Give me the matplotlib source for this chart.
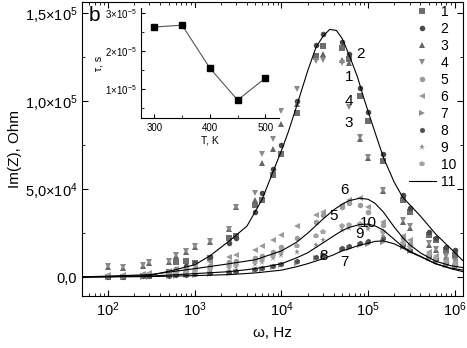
import numpy as np
import matplotlib
matplotlib.use('Agg')
import matplotlib.pyplot as plt
from matplotlib.ticker import FixedLocator, FixedFormatter, LogLocator, NullFormatter, MultipleLocator

plt.rcParams['font.family'] = ['Liberation Sans', 'DejaVu Sans']
plt.rcParams['mathtext.fontset'] = 'custom'
plt.rcParams['mathtext.rm'] = 'Liberation Sans'
plt.rcParams['mathtext.it'] = 'Liberation Sans:italic'

# measured frequencies, Hz
freq = [100, 150, 250, 300, 500, 600, 800, 1e3, 1.5e3, 2.5e3, 3e3, 5e3, 6e3, 8e3, 1e4,
        1.5e4, 2.5e4, 3e4, 5e4, 6e4, 8e4, 1e5, 1.5e5, 2.5e5, 3e5, 5e5, 6e5, 8e5, 1e6]

# Im(Z) in kOhm, series 1..10
s1 = [0.39, 0.39, 0.96, 0.96, 3.21, 8.85, 9.41, 8.29, 11.1, 22.4, 23.5, 41.0, 43.8, 57.9, 70.3,
      93.4, 125.5, 131.2, 130.0, 123.9, 103.0, 88.9, 66.3, 43.8, 37.0, 24.1, 21.25, 15.6, 12.8]
s2 = [0.96, 0.96, 1.52, 1.52, 3.21, 4.90, 6.6, 8.29, 11.67, 19.56, 22.38, 37.0, 47.7, 61.3, 75.4,
      100.2, 131.7, 137.9, 133.4, 126.7, 107.5, 94.0, 70.3, 46.6, 39.3, 25.8, 22.4, 17.3, 15.6]
s3 = [6.0, 5.5, 6.6, 8.3, 8.9, 12.2, 14.5, 17.3, 20.1, 27.5, 39.9, 43.8, 64.7, 72.6, 87.2,
      98.5, 124.9, 126.7, 123.3, 121.6, 78.8, 67.5, 48.9, 31.4, 28.0, 18.4, 15.6, 11.7, 8.9]
s4 = [6.6, 6.0, 7.2, 8.9, 9.4, 12.8, 15.1, 17.9, 20.7, 27.5, 39.9, 47.7, 70.3, 78.8, 94.5,
      106.9, 122.7, 123.3, 121.6, 96.8, 79.9, 68.1, 49.4, 32.5, 29.1, 19.6, 16.2, 12.2, 9.4]
s5 = [0.96, 0.96, 1.52, 2.09, 2.65, 3.78, 4.34, 5.47, 6.6, 8.85, 9.41, 11.1, 12.23, 14.49, 17.31,
      22.38, 31.4, 35.3, 39.9, 42.1, 41.0, 37.0, 29.7, 22.38, 19.0, 13.36, 11.1, 8.85, 7.72]
s6 = [1.52, 1.52, 2.09, 2.65, 3.78, 4.90, 5.47, 7.16, 8.85, 11.67, 12.8, 15.61, 17.87, 21.25, 24.07,
      29.1, 35.3, 37.0, 41.0, 43.8, 44.9, 39.9, 31.4, 23.5, 21.25, 14.49, 12.23, 9.98, 8.85]
s7 = [0.39, 0.39, 0.39, 0.39, 0.96, 0.96, 1.52, 1.52, 2.09, 2.65, 3.21, 4.34, 4.90, 6.03, 7.16,
      8.29, 11.1, 12.23, 15.61, 16.74, 18.43, 19.0, 20.12, 17.31, 15.05, 11.1, 9.41, 7.16, 6.03]
s8 = [0.39, 0.39, 0.96, 0.96, 0.96, 1.52, 1.52, 2.09, 2.65, 3.21, 3.78, 4.90, 5.47, 6.6, 7.72,
      9.41, 11.67, 12.8, 16.74, 17.87, 19.56, 20.69, 22.38, 18.43, 15.61, 12.23, 10.54, 8.29, 7.16]
s9 = [0.39, 0.39, 0.96, 0.96, 1.52, 2.09, 2.65, 3.21, 3.78, 5.47, 6.03, 7.72, 8.85, 11.1, 12.8,
      14.49, 18.43, 21.25, 26.9, 28.0, 28.6, 27.45, 23.51, 17.87, 15.61, 11.1, 8.85, 7.16, 6.03]
s10 = [0.96, 0.96, 1.52, 1.52, 2.09, 2.65, 3.21, 3.78, 4.90, 6.6, 7.16, 8.85, 9.98, 12.23, 14.49,
       17.87, 23.51, 25.76, 29.1, 29.7, 30.3, 29.1, 25.76, 19.56, 17.31, 12.8, 11.1, 8.29, 7.16]

# fitted curves (11)
fit_freq = [50, 100, 300, 600, 1e3, 1.5e3, 2.5e3, 4e3, 6e3, 8e3, 1e4, 1.2e4, 1.5e4, 2e4, 2.5e4,
            3e4, 3.6e4, 4.3e4, 5e4, 6e4, 7.5e4, 9e4, 1.1e5, 1.5e5, 2e5, 2.5e5, 4e5, 6e5, 9e5, 1.24e6]
fit_big = [0.23, 0.39, 0.96, 4.34, 7.16, 12.23, 20.69, 29.1, 44.4, 60.1, 72.0, 82.7, 97.4, 117.1, 130.6,
           136.8, 140.8, 140.2, 135.7, 126.5, 114.0, 101.0, 87.8, 68.0, 53.9, 45.5, 34.8, 24.6, 16.2, 9.4]

small_freq = [50, 100, 300, 1e3, 2.5e3, 5e3, 1e4, 1.5e4, 2e4, 3e4, 4e4, 5e4, 6e4, 8e4, 1e5,
              1.2e5, 1.5e5, 2e5, 2.5e5, 3e5, 4e5, 6e5, 9e5, 1.24e6]
fit_56 = [0.28, 0.68, 1.52, 4.90, 7.72, 9.98, 15.0, 20.0, 25.0, 33.0, 38.3, 41.5, 43.5, 44.9, 44.3,
          42.0, 37.0, 28.5, 22.6, 18.6, 13.9, 9.1, 6.6, 5.5]
fit_910 = [0.17, 0.39, 0.68, 2.09, 3.21, 4.9, 7.72, 11.1, 13.9, 19.5, 23.5, 26.5, 28.3, 30.0, 30.2,
           29.2, 26.8, 21.5, 17.4, 14.9, 12.0, 7.7, 4.9, 3.2]
fit_78 = [0.11, 0.23, 0.39, 0.96, 1.52, 2.5, 4.06, 6.03, 7.72, 10.5, 12.8, 15.05, 16.2, 18.3, 19.3,
          20.4, 20.7, 19.0, 16.7, 14.5, 11.7, 7.7, 5.2, 4.1]

# inset: relaxation time vs temperature
temp = [300, 350, 400, 450, 500]
tau = [2.63e-5, 2.68e-5, 1.55e-5, 0.71e-5, 1.29e-5]

series = [s1, s2, s3, s4, s5, s6, s7, s8, s9, s10]
markers = ['s', 'o', '^', 'v', 'o', '<', '>', 'h', '*', 'p']
colors = ['#6e6e6e', '#4a4a4a', '#666666', '#8a8a8a', '#9c9c9c',
          '#9a9a9a', '#8c8c8c', '#505050', '#8a8a8a', '#a4a4a4']

fig = plt.figure(figsize=(4.67, 3.48), dpi=100)
ax = fig.add_axes([0.1756, 0.149, 0.8158, 0.846])

for i, s in enumerate(series):
    ax.plot(freq, np.array(s) * 1e3, linestyle='none', marker=markers[i], color=colors[i],
            markersize=4 if markers[i] != '*' else 5, markeredgewidth=0, label=str(i + 1))

ax.plot(fit_freq, np.array(fit_big) * 1e3, color='black', lw=0.8, label='11')
ax.plot(small_freq, np.array(fit_56) * 1e3, color='black', lw=0.8)
ax.plot(small_freq, np.array(fit_910) * 1e3, color='black', lw=0.8)
ax.plot(small_freq, np.array(fit_78) * 1e3, color='black', lw=0.8)

ax.set_xscale('log')
ax.set_xlim(50, 1.24e6)
ax.set_ylim(-1.07e4, 1.565e5)

xt = [1e2, 1e3, 1e4, 1e5, 1e6]
ax.xaxis.set_major_locator(FixedLocator(xt))
ax.xaxis.set_major_formatter(FixedFormatter([r'10$^{2}$', r'10$^{3}$', r'10$^{4}$', r'10$^{5}$', r'10$^{6}$']))
ax.xaxis.set_minor_locator(LogLocator(base=10, subs=np.arange(2, 10), numticks=20))
ax.xaxis.set_minor_formatter(NullFormatter())

yt = [0, 5e4, 1e5, 1.5e5]
ax.yaxis.set_major_locator(FixedLocator(yt))
ax.yaxis.set_major_formatter(FixedFormatter(['0,0', r'5,0$\times$10$^{4}$', r'1,0$\times$10$^{5}$', r'1,5$\times$10$^{5}$']))
ax.yaxis.set_minor_locator(MultipleLocator(2.5e4))

ax.tick_params(which='both', direction='in', top=True, right=True, labelsize=10.5)
ax.tick_params(which='major', length=4)
ax.tick_params(which='minor', length=2)
ax.tick_params(axis='x', pad=3)

ax.set_xlabel('ω, Hz', fontsize=11, labelpad=5)
ax.set_ylabel('Im(Z), Ohm', fontsize=11, labelpad=2)

# curve labels
for txt, fx, fy in [('2', 7.2e4, 1.27e5), ('1', 5.4e4, 1.14e5), ('4', 5.3e4, 1.0e5), ('3', 5.3e4, 0.875e5),
                    ('6', 4.8e4, 4.95e4), ('5', 3.6e4, 3.5e4), ('10', 8.0e4, 3.1e4), ('9', 7.0e4, 2.45e4),
                    ('8', 2.7e4, 1.2e4), ('7', 4.8e4, 0.85e4)]:
    ax.text(fx, fy, txt, fontsize=11, ha='left', va='center')

leg = ax.legend(loc='upper right', bbox_to_anchor=(0.985, 0.995), frameon=False, fontsize=10,
                handlelength=2.0, handletextpad=0.3, labelspacing=0.22, borderpad=0.1, borderaxespad=0)

# inset
ins = fig.add_axes([0.302, 0.661, 0.296, 0.316])
ins.plot(temp, tau, color='#555555', lw=0.8, marker='s', markersize=4.5,
         markerfacecolor='black', markeredgecolor='black')
ins.set_xlim(276, 525)
ins.set_ylim(0.24e-5, 3.13e-5)
ins.spines['top'].set_visible(False)
ins.spines['right'].set_visible(False)
ins.xaxis.set_major_locator(FixedLocator([300, 400, 500]))
ins.xaxis.set_minor_locator(FixedLocator([350, 450]))
ins.yaxis.set_major_locator(FixedLocator([1e-5, 2e-5, 3e-5]))
ins.yaxis.set_major_formatter(FixedFormatter([r'1$\times$10$^{-5}$', r'2$\times$10$^{-5}$', r'3$\times$10$^{-5}$']))
ins.yaxis.set_minor_locator(FixedLocator([0.5e-5, 1.5e-5, 2.5e-5]))
ins.tick_params(which='both', direction='in', labelsize=7)
ins.tick_params(which='major', length=3)
ins.tick_params(which='minor', length=2)
ins.set_xlabel('T, K', fontsize=7.5, labelpad=2)
ins.set_ylabel('τ, s', fontsize=7.5, labelpad=1)

fig.text(0.19, 0.955, 'b', fontsize=15, ha='left', va='center')

fig.savefig('out.png', dpi=100)
